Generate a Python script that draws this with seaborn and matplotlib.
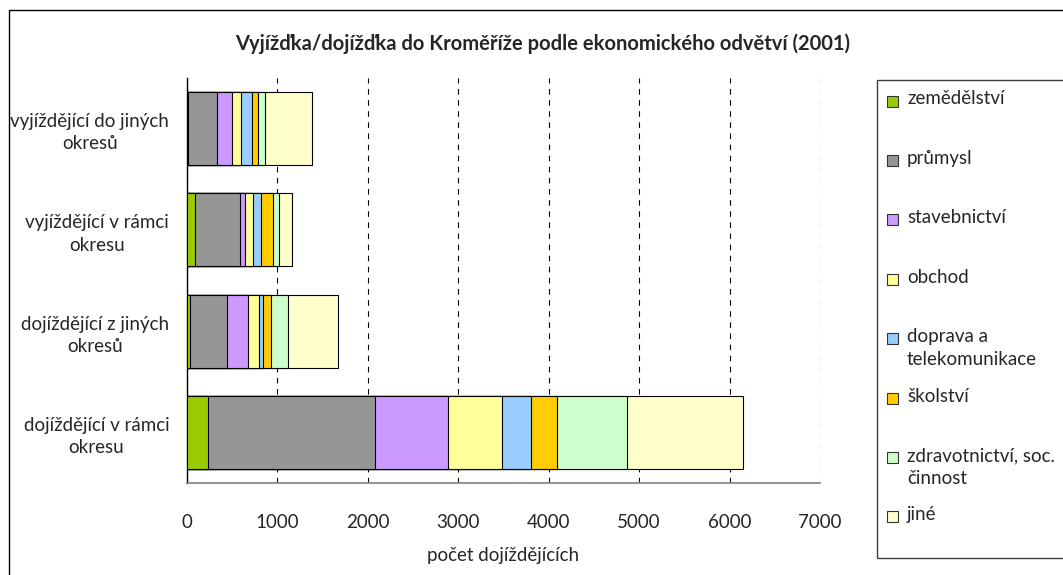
import numpy as np
import pandas as pd
import matplotlib
matplotlib.use('Agg')
import matplotlib.pyplot as plt
from matplotlib.patches import Rectangle
from matplotlib.ticker import FixedLocator
import seaborn as sns

# skupiny (shora dolu)
skupiny = ['vyjíždějící do jiných\nokresů', 'vyjíždějící v rámci\nokresu',
           'dojíždějící z jiných\nokresů', 'dojíždějící v rámci\nokresu']

odvetvi = ['zemědělství', 'průmysl', 'stavebnictví', 'obchod',
           'doprava a\ntelekomunikace', 'školství',
           'zdravotnictví, soc.\nčinnost', 'jiné']

zemedelstvi = [20, 97, 39, 238]
prumysl = [314, 494, 405, 1848]
stavebnictvi = [165, 59, 236, 804]
obchod = [103, 88, 124, 600]
doprava = [125, 82, 38, 313]
skolstvi = [63, 136, 95, 291]
zdravotnictvi = [81, 63, 181, 770]
jine = [516, 150, 556, 1282]

barvy = ['#99CC00', '#969696', '#CC99FF', '#FFFF99',
         '#99CCFF', '#FFCC00', '#CCFFCC', '#FFFFCC']

x_ticks = [0, 1000, 2000, 3000, 4000, 5000, 6000, 7000]

sns.set_style('white')
plt.rcParams['font.family'] = ['Lato', 'DejaVu Sans']

W, H = 1063, 575
FS = 13.5
hodnoty = np.array([zemedelstvi, prumysl, stavebnictvi, obchod,
                    doprava, skolstvi, zdravotnictvi, jine])
kumul = hodnoty.cumsum(axis=0)

fig = plt.figure(figsize=(W / 100, H / 100), dpi=100)
ax = fig.add_axes([186.5 / W, 1 - 483 / H, (820 - 186.5) / W, (483 - 78) / H])

# stacked bars: kreslime kumulativni soucty od nejdelsiho
for i in range(len(odvetvi) - 1, -1, -1):
    df = pd.DataFrame({'skupina': skupiny, 'pocet': kumul[i]})
    sns.barplot(data=df, x='pocet', y='skupina', orient='h', color=barvy[i],
                saturation=1, width=0.72, edgecolor='black', linewidth=0.8,
                errorbar=None, ax=ax, zorder=3)

ax.set_xlim(0, 7000)
ax.set_ylim(3.5, -0.5)
ax.set_xticks(x_ticks)
ax.set_xticklabels([str(t) for t in x_ticks], fontsize=FS)
ax.xaxis.grid(True, linestyle=(0, (5, 5)), color='black', linewidth=0.8)
ax.yaxis.grid(False)
ax.set_axisbelow(True)

ax.tick_params(axis='x', direction='inout', length=14, width=1, color='black', pad=15)
ax.tick_params(axis='y', which='major', length=0, pad=12.5)
ax.yaxis.set_minor_locator(FixedLocator([-0.5, 0.5, 1.5, 2.5, 3.5]))
ax.tick_params(axis='y', which='minor', direction='out', length=7, width=1, color='#808080')
for lab in ax.get_yticklabels():
    lab.set_fontsize(FS)
    lab.set_multialignment('center')
    lab.set_linespacing(1.38)

for s in ['top', 'right']:
    ax.spines[s].set_visible(False)
ax.spines['bottom'].set_color('#808080')
ax.spines['left'].set_color('black')
ax.spines['bottom'].set_linewidth(1.2)
ax.spines['left'].set_linewidth(1)

ax.set_ylabel('')
ax.set_xlabel('počet dojíždějících', fontsize=FS, labelpad=12)

fig.text(543 / W, 1 - 44 / H, 'Vyjížďka/dojížďka do Kroměříže podle ekonomického odvětví (2001)',
         ha='center', va='center', fontsize=14.5, fontweight='bold')

# ramecek grafu
fig.patches.append(Rectangle((9 / W, -0.1), 1.2, (H - 10) / H + 0.1,
                             transform=fig.transFigure, fill=False,
                             edgecolor='black', linewidth=1))

# legenda
fig.patches.append(Rectangle((877 / W, 1 - 558 / H), 0.5, (558 - 80) / H,
                             transform=fig.transFigure, fill=False,
                             edgecolor='#404040', linewidth=1))
y0 = 101
for i, nazev in enumerate(odvetvi):
    yc = y0 + i * 59.4
    fig.patches.append(Rectangle((887 / W, 1 - (yc + 5.5) / H), 11 / W, 11 / H,
                                 transform=fig.transFigure, facecolor=barvy[i],
                                 edgecolor='#333333', linewidth=0.8))
    for k, radek in enumerate(nazev.split('\n')):
        fig.text(907 / W, 1 - (yc - 2 + k * 23) / H, radek, ha='left', va='center',
                 fontsize=FS)

fig.savefig('out.png', dpi=100)
